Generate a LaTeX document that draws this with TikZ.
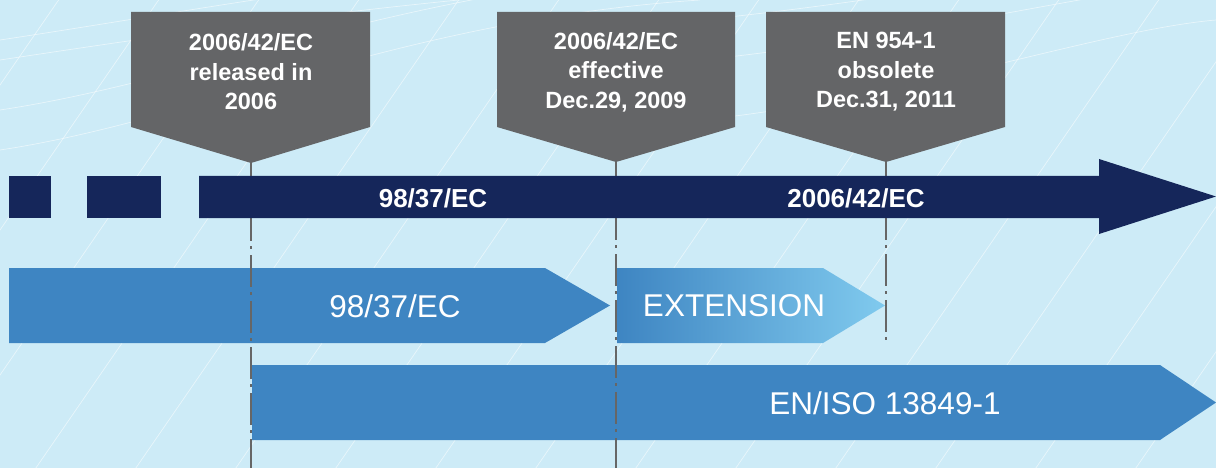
\documentclass[tikz,border=0pt]{standalone}
\usepackage{fontspec}
\setmainfont{Liberation Sans}
\definecolor{bgblue}{HTML}{CDEBF7}
\definecolor{navy}{HTML}{15265A}
\definecolor{midblue}{HTML}{3E85C2}
\definecolor{lightblue}{HTML}{80CAEE}
\definecolor{callgray}{HTML}{646567}
\definecolor{linegray}{HTML}{666666}
\tikzset{
  calloutbox/.style={fill=callgray},
  callouttext/.style={text=white, font=\fontsize{23.5}{29.5}\selectfont\bfseries, align=center, inner sep=0pt},
  bartext/.style={text=white, font=\fontsize{26}{30}\selectfont\bfseries, inner sep=0pt},
  arrowtext/.style={text=white, font=\fontsize{31.5}{34}\selectfont, inner sep=0pt},
  marker/.style={draw=linegray, line width=2.4pt, dash pattern=on 32pt off 5pt on 3pt off 6pt},
  bgline/.style={draw=white, opacity=0.55, line width=0.7pt}
}
\begin{document}
\begin{tikzpicture}[x=1pt,y=-1pt]
\fill[bgblue] (0,0) rectangle (1216,468);
\useasboundingbox (0,0) rectangle (1216,468);
% faint background lines
\begin{scope}
\clip (0,0) rectangle (1216,468);
\foreach \a/\b in {-300/100,-200/200,-100/300,0/400,100/500,200/600,300/700,400/800,500/900,600/1000,700/1100,800/1200,900/1300,1000/1400,1100/1500}{
  \draw[bgline] (\a,520) -- (\b,-60);
}
\foreach \y/\z in {150/20,110/-10,60/0,40/-30}{
  \draw[bgline] (0,\y) .. controls (200,\y-30) and (400,\z) .. (700,\z-20);
}
\foreach \y/\z in {60/-10,120/30,20/-40}{
  \draw[bgline] (700,\y) .. controls (900,\y-20) and (1100,\z) .. (1216,\z-10);
}
\end{scope}
% blue arrows
\fill[midblue] (9,268) -- (545,268) -- (610,305.5) -- (545,343) -- (9,343) -- cycle;
\shade[left color=midblue, right color=lightblue] (617,268) -- (823,268) -- (885,305.5) -- (823,343) -- (617,343) -- cycle;
\fill[midblue] (252,365) -- (1160,365) -- (1216,402.5) -- (1160,440) -- (252,440) -- cycle;
\node[arrowtext] (t9837) at (395,306) {98/37/EC};
\node[arrowtext] (text) at (734,306) {EXTENSION};
\node[arrowtext] (tiso) at (885,403) {EN/ISO 13849-1};
% marker lines
\coordinate (tipA) at (251,163);
\coordinate (endA) at (251,470);
\coordinate (tipB) at (616,162);
\coordinate (endB) at (616,470);
\coordinate (tipC) at (886,162);
\coordinate (endC) at (886,340);
\draw[marker] (tipA) -- (endA);
\draw[marker] (tipB) -- (endB);
\draw[marker] (tipC) -- (endC);
% dark timeline
\fill[navy] (9,176) rectangle (51,218);
\fill[navy] (87,176) rectangle (161,218);
\fill[navy] (199,176) -- (1099,176) -- (1099,159) -- (1216,196.5) -- (1099,234) -- (1099,218) -- (199,218) -- cycle;
\node[bartext] (b1) at (433,198) {98/37/EC};
\node[bartext] (b2) at (856,198) {2006/42/EC};
% callouts
\fill[calloutbox] (131,12) -- (370,12) -- (370,127) -- (tipA) -- (131,127) -- cycle;
\fill[calloutbox] (497,12) -- (735,12) -- (735,127) -- (tipB) -- (497,127) -- cycle;
\fill[calloutbox] (766,12) -- (1005,12) -- (1005,127) -- (tipC) -- (766,127) -- cycle;
\node[callouttext] (c1) at (251,72) {2006/42/EC\\released in\\2006};
\node[callouttext] (c2) at (616,72) {2006/42/EC\\effective\\Dec.29, 2009};
\node[callouttext] (c3) at (886,72) {EN 954-1\\obsolete\\Dec.31, 2011};
\end{tikzpicture}
\end{document}
